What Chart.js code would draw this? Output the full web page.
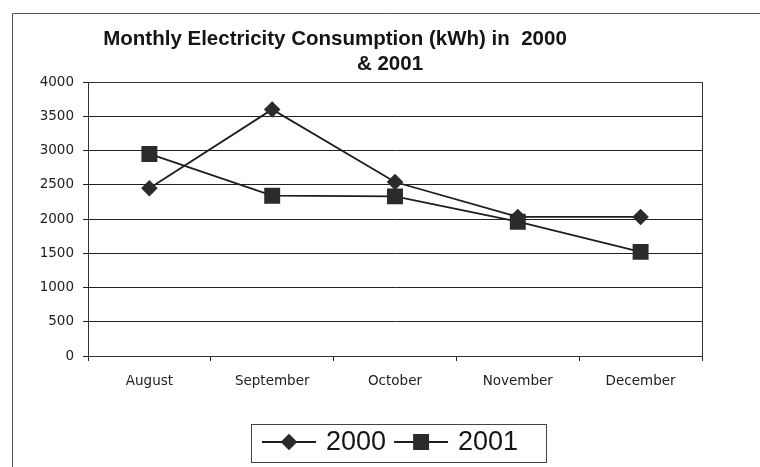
<!DOCTYPE html>
<html>
<head>
<meta charset="utf-8">
<title>Monthly Electricity Consumption</title>
<script src="https://cdn.jsdelivr.net/npm/chart.js@4"></script>
<style>
  html, body { margin: 0; padding: 0; background: #fff; }
  #wrap { width: 760px; height: 467px; }
</style>
</head>
<body>
<div id="wrap"><canvas id="elecChart" width="760" height="467"></canvas></div>
<script>
const months = ['August', 'September', 'October', 'November', 'December'];
const kwh2000 = [2450, 3600, 2540, 2030, 2030];
const kwh2001 = [2950, 2340, 2330, 1960, 1520];
const yearLabels = ['2000', '2001'];
const titleLines = ['Monthly Electricity Consumption (kWh) in  2000', '& 2001'];
const yMin = 0;
const yMax = 4000;
const yStep = 500;

const ink = '#1e1e1e';

// frame, title, plot border and the boxed legend (Excel style)
const decor = {
    id: 'decor',
    beforeDraw(chart) {
        const ctx = chart.ctx;
        ctx.save();
        ctx.fillStyle = '#fff';
        ctx.fillRect(0, 0, chart.width, chart.height);
        ctx.strokeStyle = '#555';
        ctx.lineWidth = 1;
        ctx.beginPath();
        ctx.moveTo(12.5, chart.height);
        ctx.lineTo(12.5, 13.5);
        ctx.lineTo(chart.width, 13.5);
        ctx.stroke();
        ctx.restore();
    },
    beforeDatasetsDraw(chart) {
        const a = chart.chartArea;
        const ctx = chart.ctx;
        ctx.save();
        ctx.strokeStyle = '#333';
        ctx.lineWidth = 1;
        ctx.strokeRect(Math.round(a.left) + 0.5, Math.round(a.top) + 0.5,
            Math.round(a.right - a.left), Math.round(a.bottom - a.top));
        ctx.restore();
    },
    afterDraw(chart) {
        const ctx = chart.ctx;
        ctx.save();
        // title, two lines
        ctx.fillStyle = '#151515';
        ctx.font = 'bold 20.5px "Liberation Sans", Arial, sans-serif';
        ctx.textAlign = 'center';
        ctx.textBaseline = 'alphabetic';
        ctx.fillText(titleLines[0], 335, 45);
        ctx.fillText(titleLines[1], 390, 70);

        // legend box
        ctx.strokeStyle = '#444';
        ctx.lineWidth = 1;
        ctx.strokeRect(251.5, 424.5, 295, 38);
        ctx.font = '27px "Liberation Sans", Arial, sans-serif';
        ctx.textAlign = 'left';
        ctx.textBaseline = 'middle';
        let x = 262;
        const cy = 442;
        chart.data.datasets.forEach(ds => {
            ctx.strokeStyle = ds.borderColor;
            ctx.lineWidth = ds.borderWidth;
            ctx.beginPath();
            ctx.moveTo(x, cy);
            ctx.lineTo(x + 54, cy);
            ctx.stroke();
            ctx.fillStyle = ds.pointBackgroundColor;
            ctx.strokeStyle = ds.pointBorderColor;
            Chart.helpers.drawPoint(ctx, {
                pointStyle: ds.pointStyle,
                radius: ds.pointRadius,
                rotation: 0,
                borderWidth: 1
            }, x + 27, cy);
            ctx.fillStyle = '#151515';
            ctx.fillText(ds.label, x + 64, cy + 1);
            x += 64 + ctx.measureText(ds.label).width + 8;
        });
        ctx.restore();
    }
};

const tickFont = { family: '"DejaVu Sans", Arial, sans-serif', size: 13.5 };

new Chart(document.getElementById('elecChart'), {
    type: 'line',
    data: {
        labels: months,
        datasets: [{
            label: yearLabels[0],
            data: kwh2000,
            borderColor: ink,
            borderWidth: 1.8,
            pointStyle: 'rectRot',
            pointRadius: 7,
            pointBackgroundColor: '#2b2b2b',
            pointBorderColor: '#2b2b2b',
            tension: 0
        }, {
            label: yearLabels[1],
            data: kwh2001,
            borderColor: ink,
            borderWidth: 1.8,
            pointStyle: 'rect',
            pointRadius: 10,
            pointBackgroundColor: '#2b2b2b',
            pointBorderColor: '#2b2b2b',
            tension: 0
        }]
    },
    options: {
        responsive: false,
        animation: false,
        events: [],
        layout: { padding: { left: 0, right: 58, top: 82, bottom: 71 } },
        plugins: {
            legend: { display: false },
            title: { display: false },
            tooltip: { enabled: false }
        },
        scales: {
            x: {
                offset: true,
                grid: {
                    display: true,
                    offset: true,
                    drawOnChartArea: false,
                    drawTicks: true,
                    tickLength: 5,
                    color: '#222'
                },
                border: { display: true, color: '#222' },
                ticks: { color: '#222', font: tickFont, padding: 12, maxRotation: 0 },
                afterFit(scale) { scale.height = 40; }
            },
            y: {
                min: yMin,
                max: yMax,
                grid: { color: '#222', lineWidth: 1, tickLength: 5 },
                border: { display: true, color: '#222' },
                ticks: {
                    stepSize: yStep,
                    color: '#222',
                    font: tickFont,
                    padding: 9,
                    callback: value => String(value)
                },
                afterFit(scale) { scale.width = 88; }
            }
        }
    },
    plugins: [decor]
});
</script>
</body>
</html>
